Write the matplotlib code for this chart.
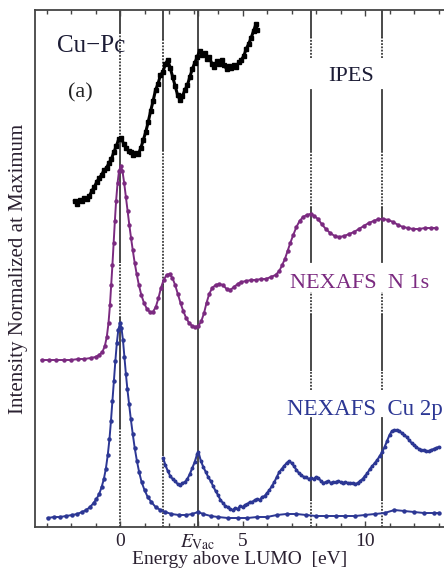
import numpy as np
import matplotlib.pyplot as plt

plt.rcParams['font.family'] = ['Liberation Serif', 'DejaVu Serif']
plt.rcParams['mathtext.fontset'] = 'stix'

#%% Daten (Energie in eV, Intensitaet in willkuerlichen Einheiten, Kurven versetzt)

ipes_e = [-1.85, -1.75, -1.65, -1.55, -1.45, -1.35, -1.25, -1.15, -1.05, -0.95,
          -0.85, -0.75, -0.65, -0.55, -0.45, -0.35, -0.25, -0.15, -0.05, 0.05,
          0.15, 0.25, 0.35, 0.45, 0.55, 0.65, 0.75, 0.85, 0.95, 1.05,
          1.15, 1.25, 1.35, 1.45, 1.55, 1.65, 1.75, 1.85, 1.95, 2.05,
          2.15, 2.25, 2.35, 2.45, 2.55, 2.65, 2.75, 2.85, 2.95, 3.05,
          3.15, 3.25, 3.35, 3.45, 3.55, 3.65, 3.75, 3.85, 3.95, 4.05,
          4.15, 4.25, 4.35, 4.45, 4.55, 4.65, 4.75, 4.85, 4.95, 5.05,
          5.15, 5.25, 5.35, 5.45, 5.55, 5.6]
ipes_i = [326, 323, 327, 326, 329, 328, 331, 336, 340, 345,
          349, 352, 357, 359, 364, 368, 375, 381, 388, 389,
          383, 379, 376, 375, 372, 374, 373, 379, 387, 395,
          405, 416, 426, 437, 443, 452, 455, 463, 467, 459,
          450, 441, 432, 427, 431, 437, 442, 450, 458, 464,
          470, 476, 472, 474, 468, 470, 463, 460, 466, 463,
          467, 462, 458, 461, 459, 462, 460, 465, 467, 471,
          478, 483, 489, 496, 503, 497]

n1s_e = [-3.2, -2.9, -2.6, -2.3, -2.0, -1.7, -1.45, -1.2, -1.0, -0.85,
         -0.72, -0.62, -0.54, -0.47, -0.41, -0.36, -0.31, -0.26, -0.21, -0.16,
         -0.1, -0.04, 0.03, 0.1, 0.17, 0.24, 0.31, 0.38, 0.45, 0.52,
         0.6, 0.68, 0.77, 0.87, 0.98, 1.1, 1.22, 1.34, 1.46, 1.57,
         1.67, 1.78, 1.9, 2.02, 2.14, 2.25, 2.36, 2.47, 2.58, 2.7,
         2.82, 2.95, 3.08, 3.2, 3.32, 3.43, 3.53, 3.64, 3.76, 3.9,
         4.05, 4.2, 4.35, 4.5, 4.65, 4.8, 4.95, 5.15, 5.35, 5.55,
         5.75, 5.95, 6.15, 6.35, 6.5, 6.62, 6.73, 6.84, 6.95, 7.07,
         7.2, 7.33, 7.47, 7.62, 7.78, 7.93, 8.08, 8.23, 8.4, 8.58,
         8.76, 8.95, 9.15, 9.35, 9.55, 9.75, 9.95, 10.15, 10.35, 10.55,
         10.75, 10.95, 11.15, 11.35, 11.55, 11.75, 11.95, 12.2, 12.45, 12.7,
         12.9]
n1s_i = [167, 167, 167, 167, 167, 168, 168, 169, 170, 172,
         175, 181, 190, 204, 222, 242, 262, 284, 306, 326,
         344, 356, 361, 356, 344, 330, 316, 302, 289, 277,
         264, 253, 242, 232, 224, 218, 215, 215, 220, 229,
         239, 247, 252, 253, 249, 242, 233, 224, 216, 209,
         204, 201, 200, 201, 206, 214, 224, 233, 239, 242,
         243, 242, 238, 237, 240, 243, 245, 246, 247, 247,
         248, 248, 250, 252, 256, 262, 268, 276, 284, 292,
         300, 306, 310, 312, 313, 311, 308, 303, 298, 294,
         291, 290, 291, 293, 295, 298, 301, 304, 306, 308,
         308, 307, 305, 302, 300, 299, 298, 298, 299, 299,
         299]

cu2p_e = [-2.95, -2.7, -2.45, -2.2, -1.95, -1.75, -1.55, -1.38, -1.22, -1.08,
          -0.96, -0.85, -0.75, -0.66, -0.58, -0.5, -0.43, -0.37, -0.31, -0.25,
          -0.19, -0.13, -0.07, 0.0, 0.06, 0.12, 0.18, 0.24, 0.3, 0.37,
          0.44, 0.52, 0.6, 0.69, 0.78, 0.88, 1.0, 1.13, 1.28, 1.45,
          1.65, 1.85, 2.1, 2.4, 2.7, 2.95, 3.18, 3.4, 3.7, 4.0,
          4.4, 4.8, 5.2, 5.6, 6.0, 6.4, 6.8, 7.2, 7.6, 8.0,
          8.4, 8.8, 9.2, 9.6, 10.0, 10.4, 10.8, 11.2, 11.6, 12.0,
          12.4, 12.8, 13.0]
cu2p_i = [9, 10, 10, 11, 12, 13, 15, 17, 20, 24,
          28, 33, 40, 48, 58, 72, 88, 106, 126, 146,
          166, 184, 197, 204, 199, 187, 170, 153, 138, 123,
          108, 93, 79, 66, 55, 45, 37, 30, 25, 20,
          17, 15, 13, 12, 12, 13, 15, 13, 11, 10,
          9, 9, 9, 10, 10, 12, 13, 13, 12, 11,
          11, 11, 11, 11, 12, 13, 14, 17, 16, 15,
          14, 14, 14]

# Cu 2p, vergroessert (zweite Kurve ab ca. 1.8 eV)
cu2p_zoom_e = [1.76, 1.85, 1.95, 2.05, 2.15, 2.25, 2.35, 2.45, 2.55, 2.65,
               2.75, 2.85, 2.95, 3.05, 3.15, 3.2, 3.3, 3.4, 3.5, 3.6,
               3.7, 3.8, 3.9, 4.0, 4.1, 4.2, 4.3, 4.4, 4.5, 4.6,
               4.7, 4.8, 4.9, 5.0, 5.1, 5.2, 5.3, 5.4, 5.5, 5.6,
               5.7, 5.8, 5.9, 6.0, 6.1, 6.2, 6.3, 6.4, 6.5, 6.6,
               6.7, 6.8, 6.9, 7.0, 7.1, 7.2, 7.3, 7.4, 7.5, 7.6,
               7.7, 7.8, 7.9, 8.0, 8.1, 8.2, 8.3, 8.4, 8.5, 8.6,
               8.7, 8.8, 8.9, 9.0, 9.1, 9.2, 9.3, 9.4, 9.5, 9.6,
               9.7, 9.8, 9.9, 10.0, 10.1, 10.2, 10.3, 10.4, 10.5, 10.6,
               10.7, 10.8, 10.9, 11.0, 11.1, 11.2, 11.3, 11.4, 11.5, 11.6,
               11.7, 11.8, 11.9, 12.0, 12.1, 12.2, 12.3, 12.4, 12.5, 12.6,
               12.7, 12.8, 12.9, 13.0]
cu2p_zoom_i = [69, 62, 56, 51, 48, 46, 43, 42, 44, 45,
               48, 53, 59, 65, 73, 75, 66, 60, 55, 50,
               46, 41, 36, 32, 27, 24, 21, 20, 18, 17,
               19, 18, 21, 20, 22, 23, 25, 25, 27, 28,
               27, 30, 31, 34, 37, 41, 45, 50, 55, 58,
               61, 64, 66, 64, 61, 57, 54, 52, 50, 50,
               48, 49, 48, 50, 49, 46, 44, 45, 46, 44,
               45, 45, 46, 45, 44, 45, 44, 44, 44, 43,
               44, 46, 48, 51, 54, 58, 61, 64, 67, 71,
               75, 80, 86, 92, 96, 97, 97, 96, 94, 92,
               90, 87, 84, 82, 80, 78, 77, 77, 76, 76,
               77, 78, 79, 80]

# senkrechte Linien: Position und Abschnitte (durchgezogen / gepunktet)
e_vac = 3.18
vlines = {
    0.0: [('-', 495, 517), (':', 389, 495), ('-', 265, 389), (':', 209, 265),
          ('-', 99, 209), (':', 0, 99)],
    1.76: [('-', 488, 517), (':', 457, 488), ('-', 377, 457), (':', 242, 377),
           ('-', 72, 242), (':', 0, 72)],
    e_vac: [('-', 0, 517)],
}
rechts = [('-', 490, 517), (':', 469, 490), ('-', 377, 437), (':', 319, 377),
          ('-', 265, 319), (':', 212, 235), ('-', 157, 212), (':', 137, 157),
          ('-', 27, 109), (':', 0, 27)]
vlines[7.8] = rechts
vlines[10.7] = rechts

purple = '#7b2a80'
blue = '#2c3794'
ytop = 517

#%% Plot
fig = plt.figure(figsize=(4.44, 5.69), dpi=100)
ax = fig.add_axes([35 / 444, 42 / 569, 412 / 444, 517 / 569])

for x, segs in vlines.items():
    for ls, y0, y1 in segs:
        ax.axvline(x, y0 / ytop, y1 / ytop, color='#3a3a3a', lw=1.3,
                   ls='-' if ls == '-' else (0, (1, 0.8)), zorder=1)

ax.plot(ipes_e, ipes_i, '-s', color='black', lw=2.2, ms=2.6, zorder=3)
ax.plot(n1s_e, n1s_i, '-o', color=purple, lw=1.4, ms=2.2, zorder=3)
ax.plot(cu2p_e, cu2p_i, '-o', color=blue, lw=1.4, ms=2.2, zorder=3)
ax.plot(cu2p_zoom_e, cu2p_zoom_i, '-o', color=blue, lw=1.5, ms=1.8, zorder=3)

ax.text(-2.57, 475, 'Cu\u2212Pc', fontsize=18, color='#1c1c35', va='baseline')
ax.text(-2.12, 430, '(a)', fontsize=16, color='#222', va='baseline')
ax.text(8.49, 446, 'IPES', fontsize=16, color='#1c1c35', va='baseline')
ax.text(6.94, 239, 'NEXAFS  N 1s', fontsize=16, color=purple, va='baseline')
ax.text(6.82, 112, 'NEXAFS  Cu 2p', fontsize=16.5, color=blue, va='baseline')

ax.set_xlim(-3.47, -3.47 + 412 / 24.5)
ax.set_ylim(0, ytop)

ax.set_xticks([0, e_vac, 5, 10])
ax.set_xticklabels(['0', r'$E_{\rm Vac}$', '5', '10'], fontsize=14, color='#2a2030')
ax.set_xticks(range(-3, 14), minor=True)
ax.tick_params(axis='x', which='both', direction='in', top=True, color='#444', pad=4)
ax.tick_params(axis='x', which='major', length=4.5, width=1)
ax.tick_params(axis='x', which='minor', length=2.8, width=1)

ax.yaxis.set_ticks_position('right')
ax.set_yticks(np.arange(10, 510, 16.4))
ax.set_yticklabels([])
ax.tick_params(axis='y', direction='in', length=2.5, width=1, color='#555')

for s in ax.spines.values():
    s.set_color('#444')
    s.set_linewidth(1.3)

ax.set_xlabel('Energy above LUMO  [eV]', fontsize=14, color='#2a2030')
ax.xaxis.set_label_coords(0.497, -0.046)
ax.set_ylabel('Intensity Normalized at Maximum', fontsize=15, color='#2a2030')
ax.yaxis.set_label_coords(-0.039, 0.5)
ax.yaxis.label.set_verticalalignment('center')

plt.savefig('out.png', dpi=100)
